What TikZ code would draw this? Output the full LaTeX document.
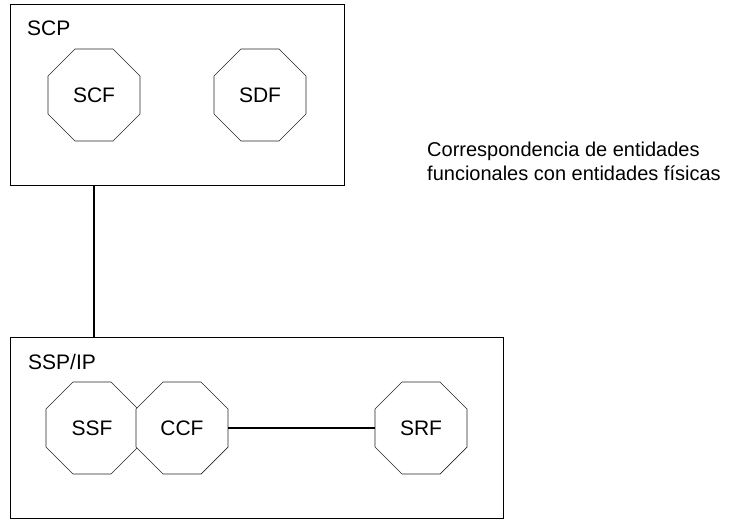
\documentclass[tikz,border=0pt]{standalone}
\usepackage{fontspec}
\setmainfont{Liberation Sans}
\usetikzlibrary{shapes.geometric}
\begin{document}
\begin{tikzpicture}[x=1pt,y=-1pt,
  octa/.style={draw=black!85, fill=white, line width=0.6pt, regular polygon, regular polygon sides=8,
    minimum size=99.6pt, inner sep=0pt, font=\fontsize{21}{24}\selectfont},
  entity/.style={draw, line width=0.8pt, inner sep=0pt},
  lbl/.style={anchor=base west, inner sep=0pt, font=\fontsize{21}{24}\selectfont},
  conn/.style={line width=1.3pt}]
\useasboundingbox (0,0) rectangle (733,520);
\node[entity, minimum width=334pt, minimum height=181pt] (scp) at (177,94.5) {};
\node[entity, minimum width=493pt, minimum height=181pt] (ssp) at (256.5,427.5) {};
\node[lbl] (scpl) at (27,35) {SCP};
\node[lbl] (sspl) at (28,369) {SSP/IP};
\node[octa] (scf) at (94,95) {SCF};
\node[octa] (sdf) at (260,95) {SDF};
\node[octa] (ssf) at (92,428) {SSF};
\node[octa] (ccf) at (182,428) {CCF};
\node[octa] (srf) at (421,428) {SRF};
\draw[conn] (scp.south -| scf) -- (ssp.north -| scf);
\draw[conn] (ccf.east) -- (srf.west);
\node[anchor=base west, inner sep=0pt, align=left, font=\fontsize{20}{24}\selectfont] (note) at (427,180)
  {Correspondencia de entidades\\funcionales con entidades físicas};
\end{tikzpicture}
\end{document}
